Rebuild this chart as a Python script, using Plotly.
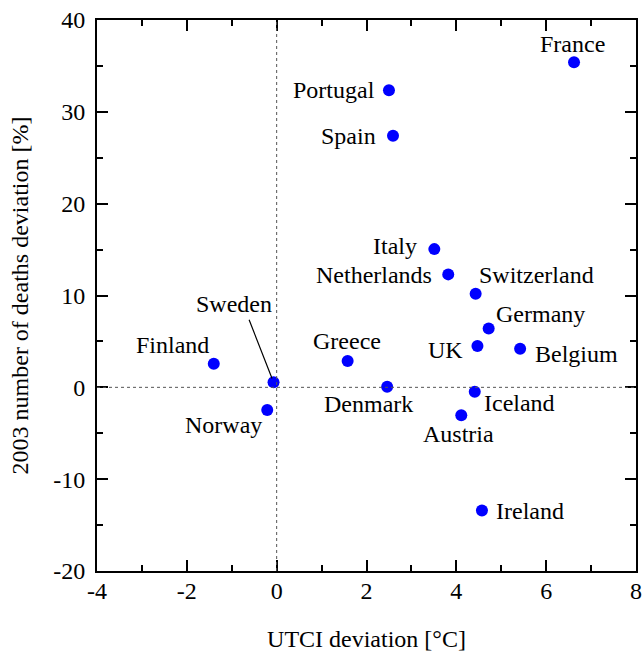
import plotly.graph_objects as go

# Country data
countries = ["France", "Portugal", "Spain", "Italy", "Netherlands", "Switzerland",
             "Germany", "UK", "Belgium", "Greece", "Denmark", "Iceland", "Austria",
             "Ireland", "Finland", "Sweden", "Norway"]
utci_dev = [6.62, 2.50, 2.59, 3.51, 3.82, 4.43, 4.72, 4.47, 5.42, 1.58, 2.46,
            4.41, 4.11, 4.57, -1.40, -0.07, -0.21]
deaths_dev = [35.4, 32.35, 27.4, 15.05, 12.3, 10.18, 6.4, 4.5, 4.19, 2.88, 0.07,
              -0.47, -3.05, -13.4, 2.58, 0.55, -2.47]

# tick labels (plain hyphen as in the original)
x_ticks = [-4, -2, 0, 2, 4, 6, 8]
x_ticktext = ["-4", "-2", "0", "2", "4", "6", "8"]
y_ticks = [-20, -10, 0, 10, 20, 30, 40]
y_ticktext = ["-20", "-10", "0", "10", "20", "30", "40"]

# label placement (pixel offsets from the marker): anchor, dx, dy
label_pos = {
    "France": ("center", -2, -18),
    "Portugal": ("right", -12, 0),
    "Spain": ("right", -15, 0),
    "Italy": ("right", -15, -3),
    "Netherlands": ("right", -14, 1),
    "Switzerland": ("left", 1, -19),
    "Germany": ("left", 5, -15),
    "UK": ("right", -12, 4),
    "Belgium": ("left", 13, 5),
    "Greece": ("center", -1, -20),
    "Denmark": ("center", -19, 17),
    "Iceland": ("left", 7, 11),
    "Austria": ("center", -3, 19),
    "Ireland": ("left", 12, 1),
    "Finland": ("center", -41, -19),
    "Sweden": ("center", -40, -78),
    "Norway": ("center", -44, 15),
}

font = "Liberation Serif"

fig = go.Figure()
fig.add_trace(go.Scatter(
    x=utci_dev, y=deaths_dev, mode="markers",
    marker=dict(color="#0000FF", size=12, line=dict(width=0)),
    hovertext=countries, showlegend=False,
))

# dashed reference lines through zero
fig.add_vline(x=0, line=dict(color="#555555", width=1, dash="3px,3px"))
fig.add_hline(y=0, line=dict(color="#555555", width=1, dash="3px,3px"))

for name, xv, yv in zip(countries, utci_dev, deaths_dev):
    anchor, dx, dy = label_pos[name]
    fig.add_annotation(x=xv, y=yv, text=name, showarrow=False,
                       xanchor=anchor, yanchor="middle",
                       xshift=dx, yshift=-dy,
                       font=dict(family=font, size=24, color="black"))

# leader line for Sweden
i = countries.index("Sweden")
fig.add_annotation(x=utci_dev[i], y=deaths_dev[i], text="", showarrow=True,
                   arrowhead=0, arrowwidth=1.2, arrowcolor="black",
                   ax=-25, ay=-64, standoff=4)

axis_common = dict(
    showgrid=False, zeroline=False, showline=True, linecolor="black",
    linewidth=2, mirror="allticks", ticks="inside", ticklen=11, tickwidth=2,
    tickcolor="black", tickfont=dict(family=font, size=24, color="black"),
)

fig.update_xaxes(
    range=[-4, 8], tickvals=x_ticks, ticktext=x_ticktext,
    minor=dict(ticks="inside", dtick=1, ticklen=6, tickwidth=2, tickcolor="black"),
    title=dict(text="UTCI deviation [°C]", font=dict(family=font, size=24, color="black"),
               standoff=27),
    ticklabelstandoff=-3, automargin="bottom",
    **axis_common,
)
fig.update_yaxes(
    range=[-20, 40], tickvals=y_ticks, ticktext=y_ticktext,
    minor=dict(ticks="inside", dtick=5, ticklen=6, tickwidth=2, tickcolor="black"),
    title=dict(text="2003 number of deaths deviation [%]",
               font=dict(family=font, size=24, color="black"), standoff=18),
    ticklabelstandoff=5, automargin="left",
    **axis_common,
)

fig.update_layout(
    width=644, height=657,
    margin=dict(l=97, r=8, t=20, b=86),
    plot_bgcolor="white", paper_bgcolor="white",
)

# drop the default body margin so the figure sits at the page corner
fig.write_html("out.html", config={"displayModeBar": False},
               post_script="document.body.style.margin='0';")
